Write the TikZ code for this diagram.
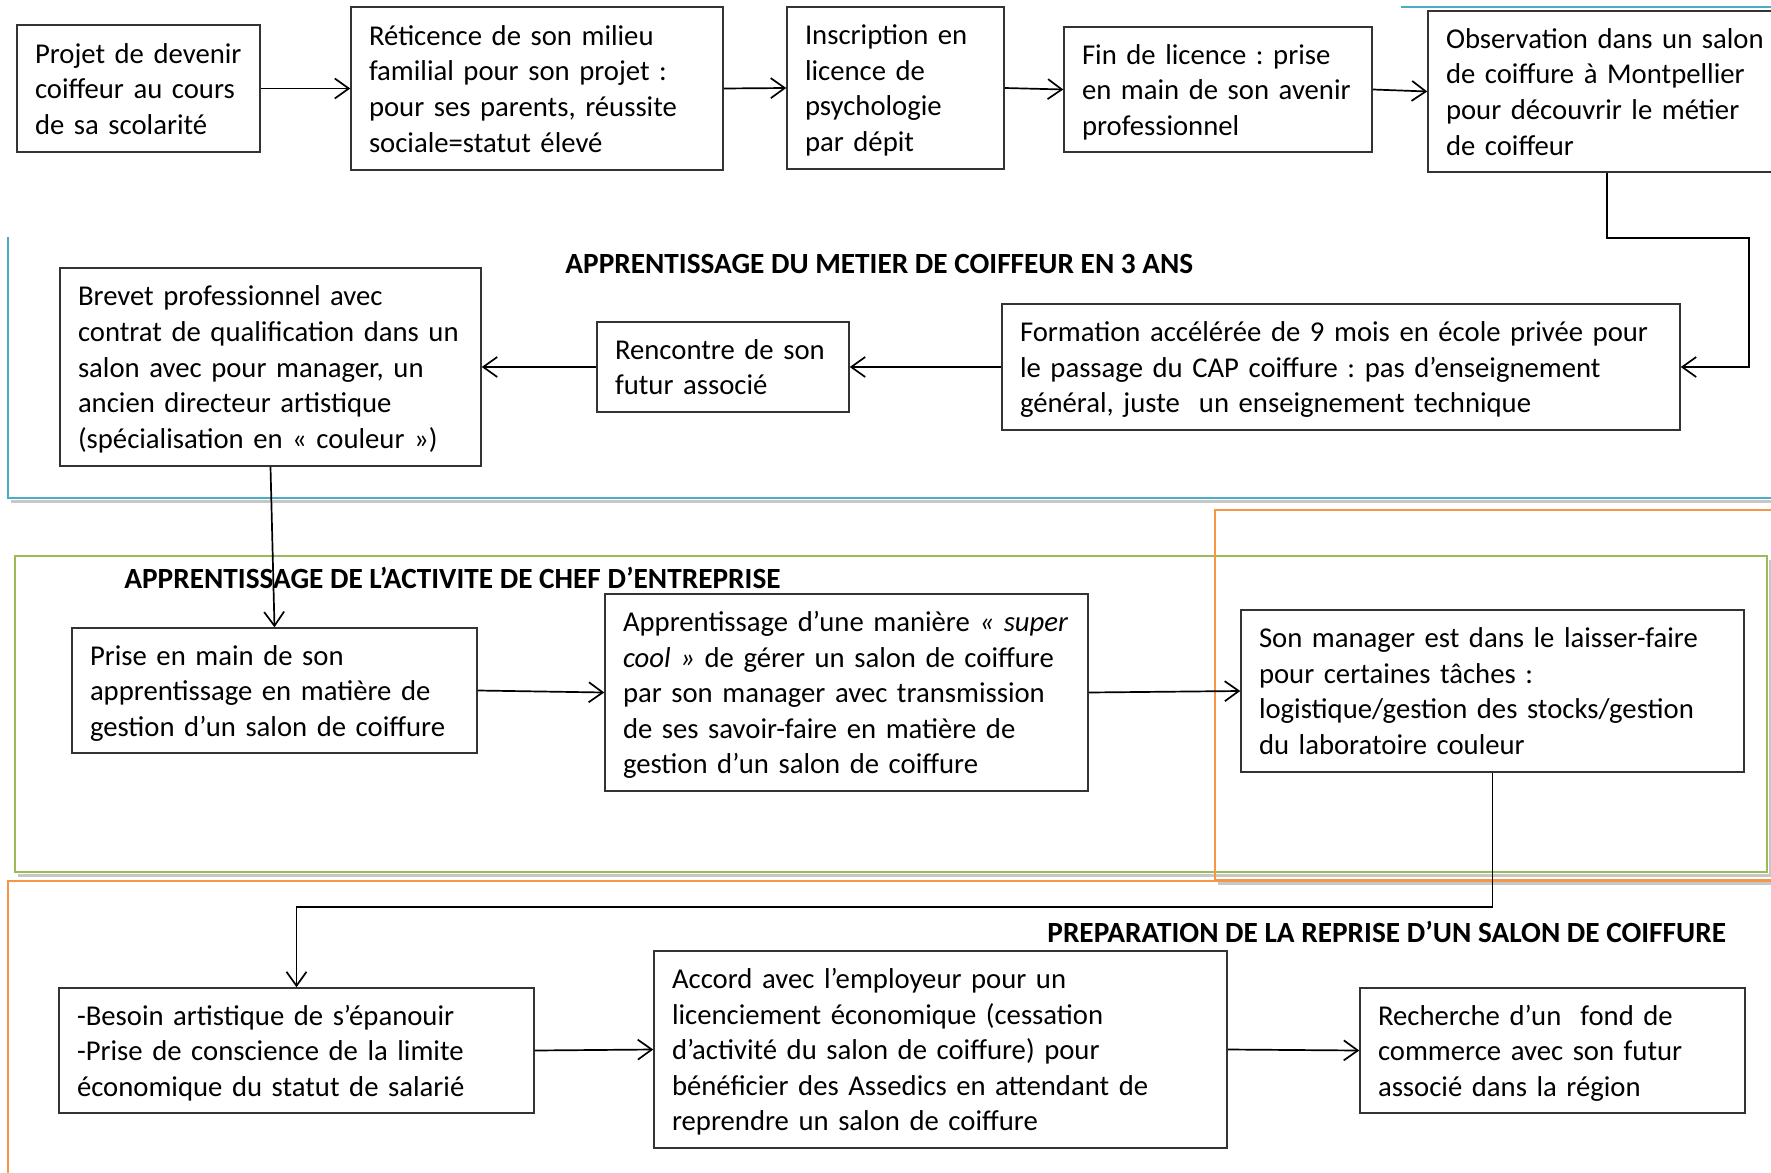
\documentclass[tikz,border=0pt]{standalone}
\usepackage{fontspec}
\setmainfont{Carlito}
\usetikzlibrary{arrows.meta}
\definecolor{frameblue}{RGB}{75,172,198}
\definecolor{framegreen}{RGB}{155,187,89}
\definecolor{frameorange}{RGB}{247,150,70}
\newcommand{\boxlines}[1]{\raisebox{-1.5pt}[\height][\depth]{\begin{tabular}{@{}l@{}}#1\end{tabular}}}
\newcommand{\bodysize}{\fontsize{14.35pt}{17.8pt}\selectfont\frenchspacing}
\newcommand{\titlesize}{\fontsize{14.65pt}{17.8pt}\selectfont\frenchspacing}
\tikzset{
  box/.style={draw=black!80, line width=0.75pt, fill=white, inner xsep=9pt, inner ysep=0pt,
    font=\bodysize, anchor=center},
  arr/.style={draw=black, line width=0.85pt, -{Straight Barb[length=7pt,width=10pt]}},
  sectitle/.style={font=\bfseries\titlesize, anchor=west, inner sep=0pt},
  frameline/.style={line width=1.3pt},
  shadowline/.style={draw=black, opacity=0.22, line width=1.6pt},
}
\begin{document}
\begin{tikzpicture}[x=0.5pt,y=-0.5pt]
\useasboundingbox (0,0) rectangle (1771,1172);
\clip (0,0) rectangle (1771,1172);
% shadows of frames
\draw[shadowline] (10.5,501.5) -- (1790,501.5);
\draw[shadowline] (18,875.5) -- (1770.5,875.5) -- (1770.5,559.5);
\draw[shadowline] (1218,883.5) -- (1790,883.5);
% frames
\draw[frameline, draw=frameblue] (1401,7) -- (1790,7);
\draw[frameline, draw=frameblue] (8,237) -- (8,498) -- (1790,498);
\draw[frameline, draw=framegreen] (15,556) rectangle (1767,872);
\draw[frameline, draw=frameorange] (1215,510) rectangle (1790,880);
\draw[frameline, draw=frameorange] (8,1180) -- (8,881) -- (1790,881);
% titles
\node[sectitle] (t1) at (565,264) {APPRENTISSAGE DU METIER DE COIFFEUR EN 3 ANS};
\node[sectitle] (t2) at (124,578) {APPRENTISSAGE DE L’ACTIVITE DE CHEF D’ENTREPRISE};
\node[sectitle] (t3) at (1047,932) {PREPARATION DE LA REPRISE D’UN SALON DE COIFFURE};
% top row
\node[box, minimum width=121.5pt, minimum height=63.5pt, text width=103.5pt] (n1) at (138.5,88.5)
  {\boxlines{Projet de devenir\\coiffeur au cours\\de sa scolarité}};
\node[box, minimum width=186pt, minimum height=81.5pt, text width=168pt] (n2) at (537,88.5)
  {\boxlines{Réticence de son milieu\\familial pour son projet :\\pour ses parents, réussite\\sociale=statut élevé}};
\node[box, minimum width=108.5pt, minimum height=81pt, text width=90.5pt] (n3) at (895.5,88)
  {\boxlines{Inscription en\\licence de\\psychologie\\par dépit}};
\node[box, minimum width=154pt, minimum height=62.5pt, text width=136pt] (n4) at (1218,89.5)
  {\boxlines{Fin de licence : prise\\en main de son avenir\\professionnel}};
\node[box, minimum width=179pt, minimum height=80.5pt, text width=161pt] (n5) at (1607,91.5)
  {\boxlines{Observation dans un salon\\de coiffure à Montpellier\\pour découvrir le métier\\de coiffeur}};
% second row
\node[box, minimum width=210.5pt, minimum height=99pt, text width=192.5pt] (brevet) at (270.5,367)
  {\boxlines{Brevet professionnel avec\\contrat de qualification dans un\\salon avec pour manager, un\\ancien directeur artistique\\(spécialisation en « couleur »)}};
\node[box, minimum width=126pt, minimum height=45pt, text width=108pt] (rencontre) at (723,367)
  {\boxlines{Rencontre de son\\futur associé}};
\node[box, minimum width=339pt, minimum height=63pt, text width=321pt] (formation) at (1341,367)
  {\boxlines{Formation accélérée de 9 mois en école privée pour\\le passage du CAP coiffure : pas d’enseignement\\général, juste~ un enseignement technique}};
% third row
\node[box, minimum width=202.5pt, minimum height=62.5pt, text width=184.5pt] (prise) at (274.5,690.5)
  {\boxlines{Prise en main de son\\apprentissage en matière de\\gestion d’un salon de coiffure}};
\node[box, minimum width=241.5pt, minimum height=98.5pt, text width=223.5pt] (cool) at (846.5,692.5)
  {\boxlines{Apprentissage d’une manière \textit{« super}\\\textit{cool »} de gérer un salon de coiffure\\par son manager avec transmission\\de ses savoir-faire en matière de\\gestion d’un salon de coiffure}};
\node[box, minimum width=251.5pt, minimum height=81pt, text width=233.5pt] (son) at (1492.5,691)
  {\boxlines{Son manager est dans le laisser-faire\\pour certaines tâches :\\logistique/gestion des stocks/gestion\\du laboratoire couleur}};
% fourth row
\node[box, minimum width=237.5pt, minimum height=62.5pt, text width=219.5pt] (besoin) at (296.5,1050.5)
  {\boxlines{-Besoin artistique de s’épanouir\\-Prise de conscience de la limite\\économique du statut de salarié}};
\node[box, minimum width=286.5pt, minimum height=98.5pt, text width=268.5pt] (accord) at (940.5,1049.5)
  {\boxlines{Accord avec l’employeur pour un\\licenciement économique (cessation\\d’activité du salon de coiffure) pour\\bénéficier des Assedics en attendant de\\reprendre un salon de coiffure}};
\node[box, minimum width=192.5pt, minimum height=62.5pt, text width=174.5pt] (recherche) at (1552.5,1050.5)
  {\boxlines{Recherche d’un~ fond de\\commerce avec son futur\\associé dans la région}};
% connectors
\coordinate (k1) at (1749,238);
\coordinate (k2) at (296.5,907);
\draw[arr] (n1.east) -- (n2.west);
\draw[arr] (n2.east) -- (n3.west);
\draw[arr] (n3.east) -- (n4.west);
\draw[arr] (n4.east) -- (n5.west);
\draw[arr] (n5.south) |- (k1) |- (formation.east);
\draw[arr] (formation.west) -- (rencontre.east);
\draw[arr] (rencontre.west) -- (brevet.east);
\draw[arr] (brevet.south) -- (prise.north);
\draw[arr] (prise.east) -- (cool.west);
\draw[arr] (cool.east) -- (son.west);
\draw[arr] (son.south) |- (k2) -- (besoin.north);
\draw[arr] (besoin.east) -- (accord.west);
\draw[arr] (accord.east) -- (recherche.west);
\end{tikzpicture}
\end{document}
